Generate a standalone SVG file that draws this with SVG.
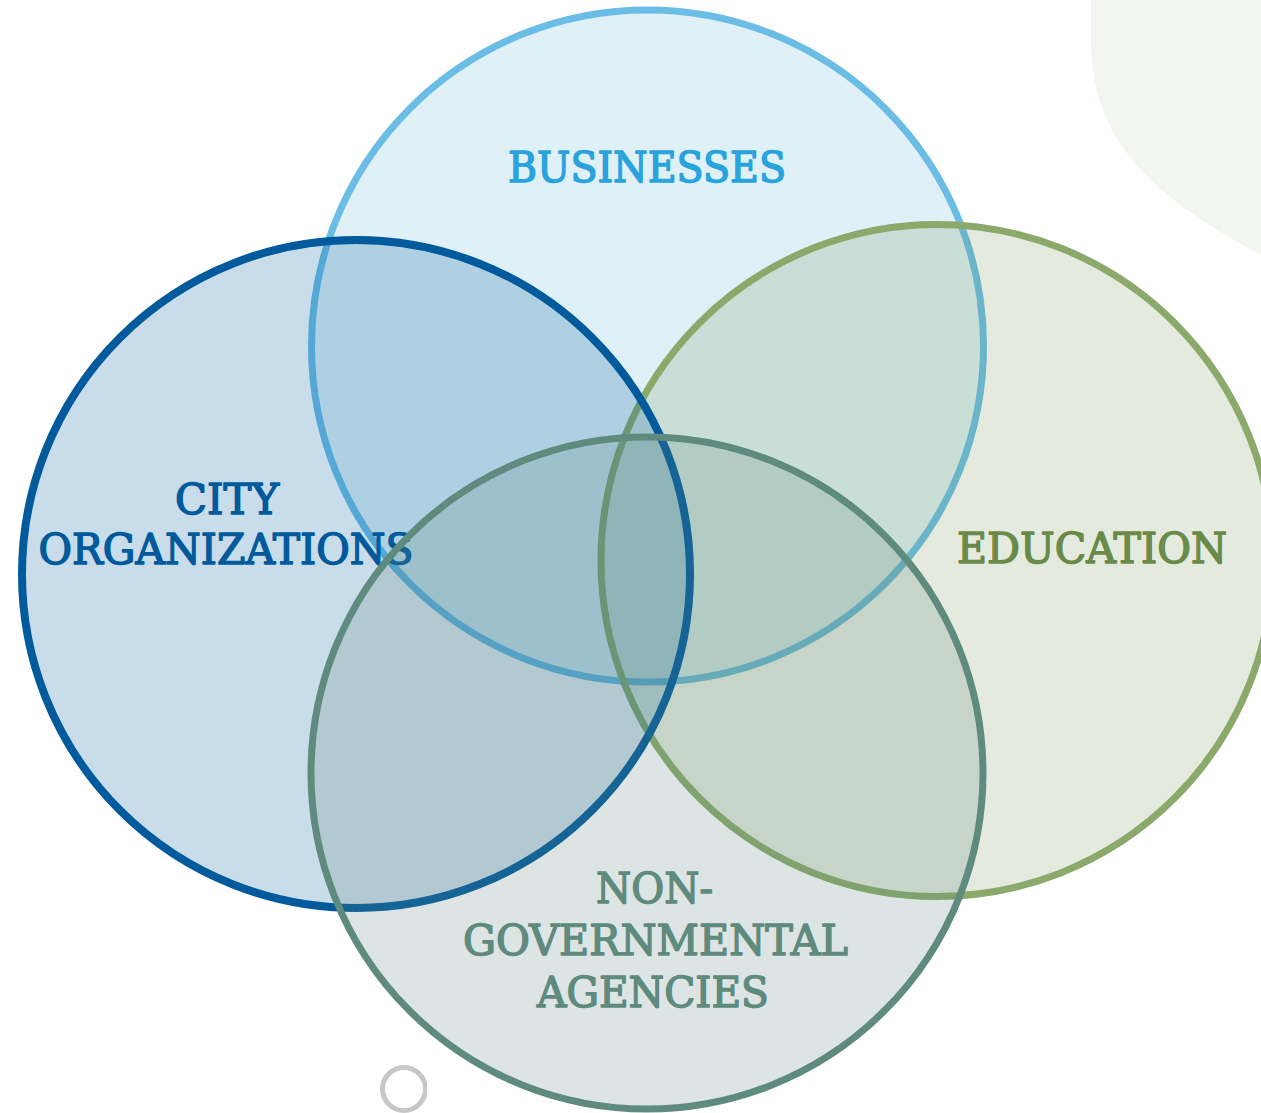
<svg xmlns="http://www.w3.org/2000/svg" width="1261" height="1113" viewBox="0 0 1261 1113">
  <defs>
    <style>
      .lbl { font-family: "DejaVu Serif", "Liberation Serif", serif; font-size: 42px; text-anchor: middle; stroke-width: 1.5px; stroke-linejoin: round; }
      .bus-c { fill: #dff0f7; stroke: #6bbde6; stroke-width: 7; }
      .edu-c { fill: #6a8f47; fill-opacity: 0.18; stroke: #8aa96a; stroke-width: 7; }
      .city-c { fill: #005a9c; fill-opacity: 0.21; stroke: #005a9c; stroke-width: 8; }
      .ngo-c { fill: #5f8a7e; fill-opacity: 0.22; stroke: #5f8a7e; stroke-width: 7; }
      .bus-t { fill: #29a3dc; stroke: #29a3dc; }
      .edu-t { fill: #6a8a4a; stroke: #6a8a4a; }
      .city-t { fill: #005a9c; stroke: #005a9c; }
      .ngo-t { fill: #5f8a7e; stroke: #5f8a7e; }
    </style>
    <clipPath id="smallclip">
      <rect x="0" y="0" width="427" height="1113"/>
    </clipPath>
  </defs>
  <rect x="0" y="0" width="1261" height="1113" fill="#ffffff"/>
  <path id="backdrop" d="M1091,0 L1091,40 C1091,140 1150,195 1261,255 L1261,0 Z" fill="#f3f6ee"/>

  <g id="businesses">
    <circle class="bus-c" cx="647.5" cy="346" r="336"/>
    <text class="lbl bus-t" x="647" y="182" textLength="278" lengthAdjust="spacingAndGlyphs">BUSINESSES</text>
  </g>
  <g id="education">
    <circle class="edu-c" cx="937" cy="560.5" r="336"/>
    <text class="lbl edu-t" x="1092" y="563" textLength="270" lengthAdjust="spacingAndGlyphs">EDUCATION</text>
  </g>
  <g id="city-organizations">
    <circle class="city-c" cx="356" cy="574" r="334"/>
    <text class="lbl city-t" x="227" y="514" textLength="104" lengthAdjust="spacingAndGlyphs">CITY</text>
    <text class="lbl city-t" x="226" y="564" textLength="375" lengthAdjust="spacingAndGlyphs">ORGANIZATIONS</text>
  </g>
  <g id="non-governmental-agencies">
    <circle class="ngo-c" cx="647" cy="773" r="336"/>
    <text class="lbl ngo-t" x="654.5" y="903" textLength="117" lengthAdjust="spacingAndGlyphs">NON-</text>
    <text class="lbl ngo-t" x="655.5" y="955" textLength="385" lengthAdjust="spacingAndGlyphs">GOVERNMENTAL</text>
    <text class="lbl ngo-t" x="653" y="1007" textLength="232" lengthAdjust="spacingAndGlyphs">AGENCIES</text>
  </g>
  <g id="connectors"></g>
  <g id="small-ring" clip-path="url(#smallclip)">
    <circle cx="404" cy="1089" r="21.5" fill="none" stroke="#c6c8c6" stroke-width="5"/>
  </g>
</svg>
